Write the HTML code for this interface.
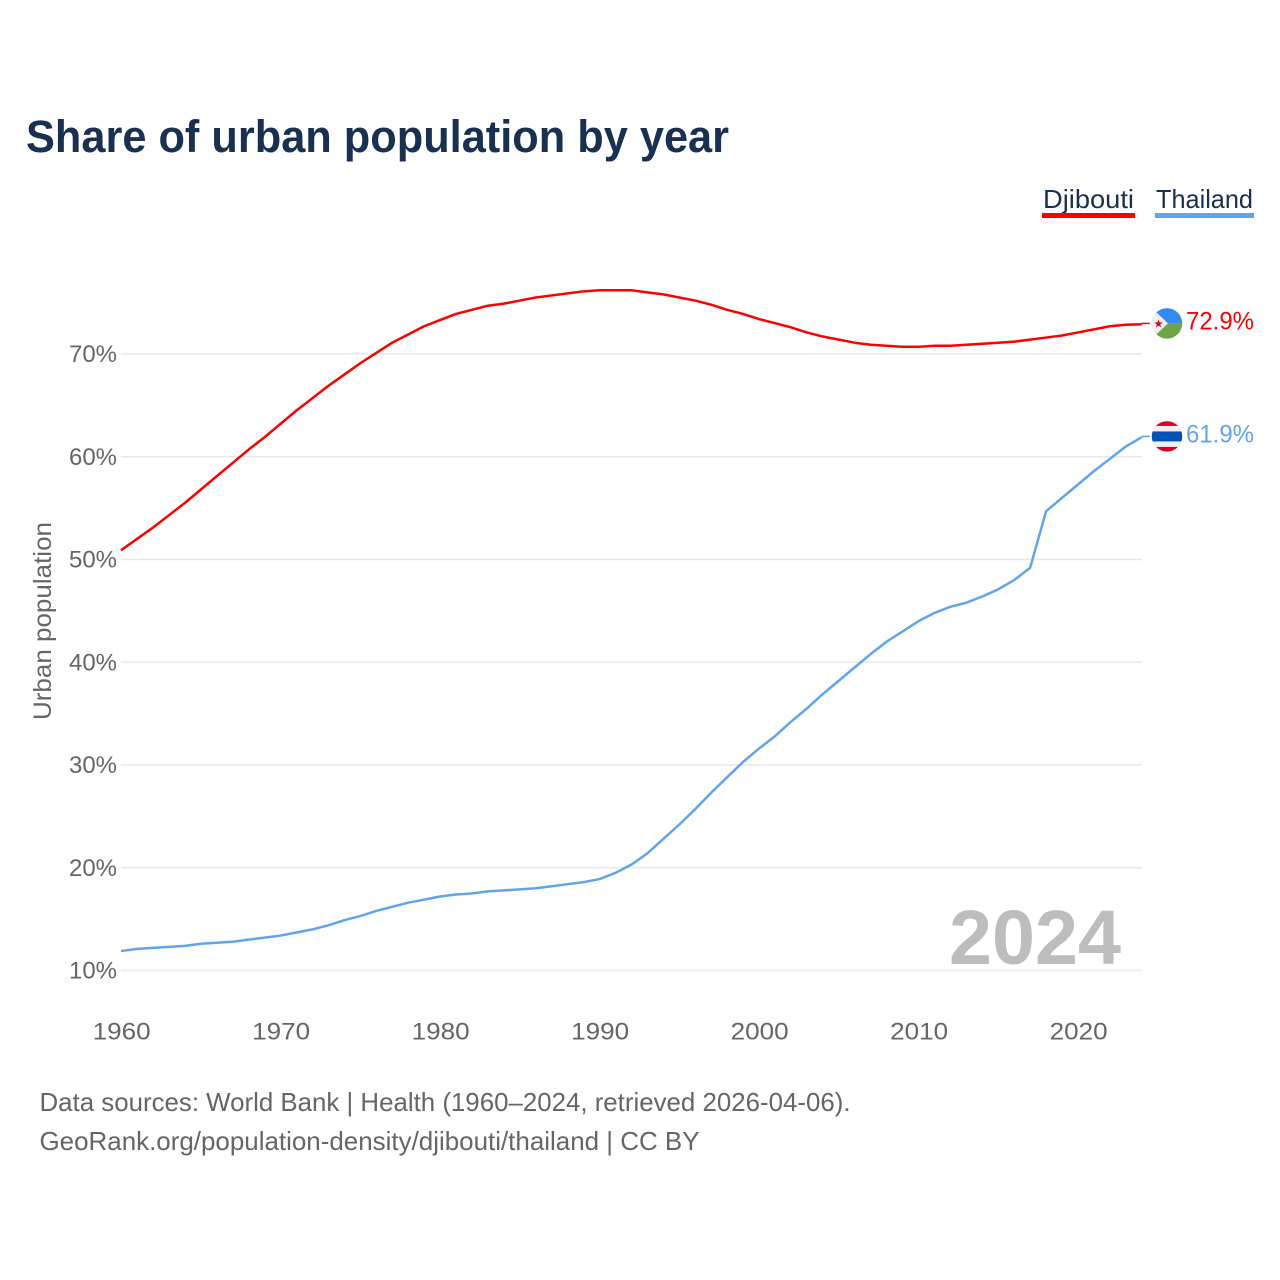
<!DOCTYPE html>
<html lang="en">
<head>
<meta charset="utf-8">
<title>Share of urban population by year</title>
<style>
html,body{margin:0;padding:0;background:#fff;}
svg{display:block;font-family:"Liberation Sans",sans-serif;}
</style>
</head>
<body>
<svg id="chart" xmlns="http://www.w3.org/2000/svg" width="1280" height="1280" viewBox="0 0 1280 1280">
  <rect x="0" y="0" width="1280" height="1280" fill="#ffffff"/>
  <text x="26" y="152" font-size="45" font-weight="700" fill="#1a3050" textLength="703" lengthAdjust="spacingAndGlyphs">Share of urban population by year</text>

  <g>
    <g>
      <text x="1043" y="208" font-size="26" fill="#1a3050" textLength="91" lengthAdjust="spacingAndGlyphs">Djibouti</text>
      <rect x="1042" y="213" width="93" height="5" fill="#ff0000"/>
    </g>
    <g>
      <text x="1156" y="208" font-size="26" fill="#1a3050" textLength="97" lengthAdjust="spacingAndGlyphs">Thailand</text>
      <rect x="1155" y="213" width="99" height="5" fill="#62a5ec"/>
    </g>
  </g>

  <g id="grid"></g>
  <g id="y-axis"></g>
  <g id="x-axis"></g>
  <text transform="translate(51,621) rotate(-90)" text-anchor="middle" font-size="25" fill="#666666" textLength="198" lengthAdjust="spacingAndGlyphs">Urban population</text>

  <text x="1121" y="964" text-anchor="end" font-size="77" font-weight="700" fill="#bdbdbd" textLength="172" lengthAdjust="spacingAndGlyphs">2024</text>

  <g id="series"></g>

  <g id="flag-djibouti">
    <clipPath id="clip-dj"><circle cx="0" cy="0" r="15.2"/></clipPath>
    <g clip-path="url(#clip-dj)">
      <rect x="-16" y="-16" width="32" height="16" fill="#338af3"/>
      <rect x="-16" y="0" width="32" height="16" fill="#6da544"/>
      <polygon points="-16,-16 1,0 -16,16" fill="#f0f0f0"/>
      <polygon points="-8.5,-4 -7.4,-0.9 -4.2,-0.9 -6.8,1 -5.8,4 -8.5,2.2 -11.2,4 -10.2,1 -12.8,-0.9 -9.6,-0.9" fill="#d80027"/>
    </g>
  </g>
  <g id="flag-thailand">
    <clipPath id="clip-th"><circle cx="0" cy="0" r="15.2"/></clipPath>
    <g clip-path="url(#clip-th)">
      <rect x="-16" y="-16" width="32" height="32" fill="#d80027"/>
      <rect x="-16" y="-10.5" width="32" height="21" fill="#f0f0f0"/>
      <rect x="-16" y="-5" width="32" height="10" fill="#0052b4"/>
    </g>
  </g>
  <text id="value-djibouti" x="1254" y="329" text-anchor="end" font-size="25" fill="#ff0000" textLength="68" lengthAdjust="spacingAndGlyphs"></text>
  <text id="value-thailand" x="1254" y="442" text-anchor="end" font-size="25" fill="#62a5ec" textLength="68" lengthAdjust="spacingAndGlyphs"></text>

  <g>
    <text x="39.5" y="1111" font-size="26" fill="#666666" textLength="811" lengthAdjust="spacingAndGlyphs">Data sources: World Bank | Health (1960–2024, retrieved 2026-04-06).</text>
    <text x="39.5" y="1150" font-size="26" fill="#666666" textLength="660" lengthAdjust="spacingAndGlyphs">GeoRank.org/population-density/djibouti/thailand | CC BY</text>
  </g>
</svg>
<script>
const startYear = 1960;
const yTickValues = [10, 20, 30, 40, 50, 60, 70];
const xTickValues = [1960, 1970, 1980, 1990, 2000, 2010, 2020];
const djiboutiValues = [50.9, 52.0, 53.1, 54.3, 55.5, 56.8, 58.1, 59.4, 60.7, 61.9, 63.2, 64.5, 65.7, 66.9, 68.0, 69.1, 70.1, 71.1, 71.9, 72.7, 73.3, 73.9, 74.3, 74.7, 74.9, 75.2, 75.5, 75.7, 75.9, 76.1, 76.2, 76.2, 76.2, 76.0, 75.8, 75.5, 75.2, 74.8, 74.3, 73.9, 73.4, 73.0, 72.6, 72.1, 71.7, 71.4, 71.1, 70.9, 70.8, 70.7, 70.7, 70.8, 70.8, 70.9, 71.0, 71.1, 71.2, 71.4, 71.6, 71.8, 72.1, 72.4, 72.7, 72.85, 72.9];
const thailandValues = [11.9, 12.1, 12.2, 12.3, 12.4, 12.6, 12.7, 12.8, 13.0, 13.2, 13.4, 13.7, 14.0, 14.4, 14.9, 15.3, 15.8, 16.2, 16.6, 16.9, 17.2, 17.4, 17.5, 17.7, 17.8, 17.9, 18.0, 18.2, 18.4, 18.6, 18.9, 19.5, 20.3, 21.4, 22.8, 24.2, 25.7, 27.3, 28.8, 30.3, 31.6, 32.8, 34.2, 35.5, 36.9, 38.2, 39.5, 40.8, 42.0, 43.0, 44.0, 44.8, 45.4, 45.8, 46.4, 47.1, 48.0, 49.2, 54.7, 56.0, 57.3, 58.6, 59.8, 61.0, 61.9];

const SVG_NS = 'http://www.w3.org/2000/svg';
function xScale(year) { return 121 + (year - 1960) * 15.95; }
function yScale(value) { return 970.5 - (value - 10) * 10.275; }
function make(tag, attrs, parent) {
  const el = document.createElementNS(SVG_NS, tag);
  for (const k in attrs) el.setAttribute(k, attrs[k]);
  parent.appendChild(el);
  return el;
}

const grid = document.getElementById('grid');
const yAxis = document.getElementById('y-axis');
const xAxis = document.getElementById('x-axis');
const series = document.getElementById('series');

yTickValues.forEach(function (v) {
  const line = make('line', { x1: 121, x2: 1142, y1: yScale(v), y2: yScale(v), stroke: '#e9e9e9', 'stroke-width': 1.5 }, grid);
  
  
  const label = make('text', { x: 117, y: yScale(v) + 8, 'text-anchor': 'end', 'font-size': 24, fill: '#666666', textLength: 48, lengthAdjust: 'spacingAndGlyphs' }, yAxis);
  label.textContent = v + '%';
  
  
});

xTickValues.forEach(function (y) {
  const label = make('text', { x: xScale(y) + 0.7, y: 1039.5, 'text-anchor': 'middle', 'font-size': 24, fill: '#666666', textLength: 58, lengthAdjust: 'spacingAndGlyphs' }, xAxis);
  label.textContent = String(y);
  
  
});

function drawSeries(values, color, key) {
  const pts = values.map(function (v, i) {
    return xScale(startYear + i).toFixed(2) + ',' + yScale(v).toFixed(2);
  });
  const line = make('polyline', { points: pts.join(' '), fill: 'none', stroke: color, 'stroke-width': 2.5, 'stroke-linejoin': 'round' }, series);
  
  
  const lastY = yScale(values[values.length - 1]) - 0.8;
  const lastX = xScale(startYear + values.length - 1);
  const leader = make('line', { x1: lastX, x2: lastX + 8, y1: lastY, y2: lastY, stroke: color, 'stroke-width': 1.5 }, series);
  
  
  document.getElementById('flag-' + key).setAttribute('transform', 'translate(1167,' + lastY.toFixed(2) + ')');
  document.getElementById('value-' + key).textContent = values[values.length - 1].toFixed(1) + '%';
  document.getElementById('value-' + key).setAttribute('y', (lastY + 6).toFixed(2));
}
drawSeries(djiboutiValues, '#ff0000', 'djibouti');
drawSeries(thailandValues, '#62a5ec', 'thailand');
</script>
</body>
</html>
